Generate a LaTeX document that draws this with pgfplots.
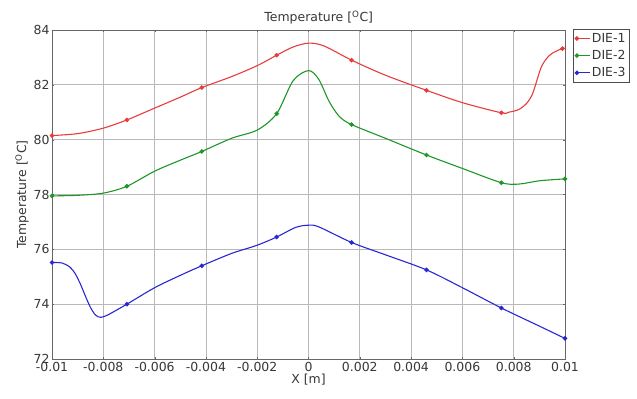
\documentclass[border=0pt]{standalone}
\usepackage{fontspec}
\setmainfont{DejaVu Sans}
\usepackage{pgfplots}
\pgfplotsset{compat=1.18}
\definecolor{cred}{RGB}{232,60,60}
\definecolor{cgreen}{RGB}{30,150,40}
\definecolor{cblue}{RGB}{40,40,210}
\definecolor{ctext}{RGB}{55,55,55}
\definecolor{cgrid}{RGB}{185,185,185}
\begin{document}
\begin{tikzpicture}
\useasboundingbox (-52bp,-40bp) rectangle (585bp,359bp);
\begin{axis}[
  scale only axis, width=513bp, height=329bp,
  at={(0,0)}, anchor=south west,
  xmin=-0.01, xmax=0.01, ymin=72, ymax=84,
  scaled x ticks=false,
  xtick={-0.01,-0.008,-0.006,-0.004,-0.002,0,0.002,0.004,0.006,0.008,0.01},
  xticklabels={-0.01,-0.008,-0.006,-0.004,-0.002,0,0.002,0.004,0.006,0.008,0.01},
  ytick={72,74,76,78,80,82,84},
  /pgf/number format/assume math mode=true,
  grid=major, major grid style={cgrid, line width=0.7pt},
  axis line style={draw=black!60, line width=0.8pt},
  tick style={draw=black!60}, tick align=inside, major tick length=2bp,
  tick label style={font=\fontsize{12.5}{14}\selectfont, text=ctext},
  yticklabel style={xshift=1bp},
  label style={font=\fontsize{12.5}{14}\selectfont, text=ctext},
  title={Temperature [\textsuperscript{O}C]},
  title style={font=\fontsize{12.5}{14}\selectfont, text=ctext, at={(rel axis cs:0.52,1)}, yshift=-4bp},
  xlabel={X [m]}, ylabel={Temperature [\textsuperscript{O}C]},
  xlabel style={yshift=5bp},
  ylabel style={yshift=-2bp},
  legend style={at={(rel axis cs:1,1)}, anchor=north west, xshift=8bp, yshift=1bp,
    font=\fontsize{12.5}{14}\selectfont, text=ctext, draw=black!70, inner sep=2bp,
    row sep=2.5bp, cells={anchor=west}},
  legend cell align=left,
  legend image code/.code={\draw[mark repeat=2,mark phase=2] plot coordinates {(0cm,0cm) (0.22cm,0cm) (0.44cm,0cm)};},
  every axis plot/.append style={line width=1.1pt, mark size=1.7pt},
]
\addplot[cred, smooth, mark=*, mark indices={1,4,7,10,14,16,18,30}] coordinates {
(-0.01,80.15) (-0.009,80.22) (-0.008,80.42) (-0.00708,80.72) (-0.006,81.15) (-0.005,81.55)
(-0.00416,81.9) (-0.003,82.3) (-0.002,82.7) (-0.00124,83.08) (-0.0006,83.38) (0,83.52)
(0.0006,83.42) (0.00168,82.9) (0.003,82.35) (0.0046,81.8) (0.006,81.35) (0.00752,80.98)
(0.0078,81.0) (0.0082,81.1) (0.0085,81.32) (0.0087,81.6) (0.0088,81.85) (0.0089,82.15)
(0.009,82.45) (0.0091,82.7) (0.0093,82.98) (0.0095,83.15) (0.0098,83.29) (0.0099,83.32) (0.01,83.34)
};
\addlegendentry{DIE-1}
\addplot[cgreen, smooth, mark=*, mark indices={1,4,7,10,16,18,20,23}] coordinates {
(-0.01,77.95) (-0.009,77.97) (-0.008,78.05) (-0.00708,78.3) (-0.006,78.85) (-0.005,79.25)
(-0.00416,79.57) (-0.003,80.05) (-0.002,80.35) (-0.00124,80.95) (-0.0006,82.15) (0,82.52)
(0.0004,82.2) (0.0008,81.4) (0.0012,80.85) (0.00168,80.55) (0.003,80.05) (0.0046,79.44)
(0.006,78.95) (0.00752,78.43) (0.0082,78.38) (0.009,78.5) (0.01,78.57)
};
\addlegendentry{DIE-2}
\addplot[cblue, smooth, mark=*, mark indices={1,11,14,17,21,23,25,27}] coordinates {
(-0.01,75.52) (-0.0096,75.5) (-0.0093,75.35) (-0.0091,75.12) (-0.0089,74.75) (-0.0087,74.3)
(-0.0085,73.88) (-0.0083,73.6) (-0.0081,73.52) (-0.0078,73.62)
(-0.00708,74.0) (-0.006,74.6) (-0.005,75.05) (-0.00416,75.4) (-0.003,75.85) (-0.002,76.15)
(-0.00124,76.45) (-0.0005,76.8) (0,76.88) (0.0004,76.82) (0.00168,76.25) (0.003,75.8)
(0.0046,75.25) (0.006,74.6) (0.00752,73.86) (0.009,73.2) (0.01,72.75)
};
\addlegendentry{DIE-3}
\end{axis}
\end{tikzpicture}
\end{document}
